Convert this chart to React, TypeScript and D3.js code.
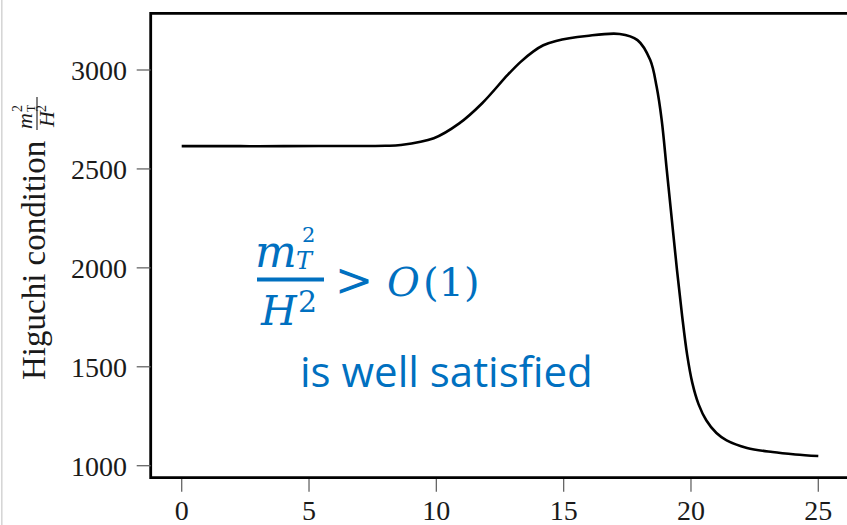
import React from 'react'
import * as d3 from 'd3'

// curve
const tValues = [0, 2, 4, 6, 8, 8.6, 9.9, 10.9, 11.8, 12.8, 13.3, 13.8, 14.2, 14.7, 15.9, 17.2, 17.9, 18.4, 18.65, 18.85, 19.05, 19.25, 19.45, 19.65, 19.85, 20.05, 20.3, 20.6, 21.0, 21.4, 22.2, 23.2, 24.1, 25]
const higuchi = [2615, 2615, 2615, 2616, 2617, 2621, 2655, 2730, 2832, 2975, 3040, 3093, 3125, 3147, 3172, 3182, 3151, 3050, 2916, 2747, 2494, 2241, 1990, 1760, 1560, 1420, 1310, 1230, 1165, 1128, 1090, 1069, 1057, 1049]
const xTicks = [0, 5, 10, 15, 20, 25]
const yTicks = [1000, 1500, 2000, 2500, 3000]

const W = 847
const H = 525

const App = () => {
  const x = d3.scaleLinear().domain([0, 25]).range([181.7, 818.3])
  const y = d3.scaleLinear().domain([1000, 3000]).range([465.7, 70])

  const line = d3.line<number>()
    .x((d, i) => x(tValues[i]))
    .y(d => y(d))
    .curve(d3.curveCatmullRom.alpha(0.5))

  const frameL = 150.7
  const frameT = 13.3
  const frameB = 477.7
  const serif = '"Liberation Serif", "Times New Roman", serif'
  const mathFont = '"DejaVu Serif", serif'
  const blue = '#0070C0'

  return (
    <svg width={W} height={H} style={{ position: 'absolute', left: 0, top: 0, background: 'white' }}>
      {/* slide edge */}
      <line x1={1.8} x2={1.8} y1={0} y2={H} stroke="#d4d4d4" strokeWidth={1.5} />

      {/* frame */}
      <path d={`M${W + 10},${frameT}H${frameL}V${frameB}H${W + 10}`} fill="none" stroke="#000" strokeWidth={2.8} />

      {/* y axis */}
      {yTicks.map(t => (
        <g key={'y' + t}>
          <line x1={136.7} x2={frameL} y1={y(t)} y2={y(t)} stroke="#666" strokeWidth={1.3} />
          <text x={127} y={y(t) + 10} textAnchor="end" fontFamily={serif} fontSize={28} fill="#1a1a1a">{t}</text>
        </g>
      ))}

      {/* x axis */}
      {xTicks.map(t => (
        <g key={'x' + t}>
          <line x1={x(t)} x2={x(t)} y1={frameB + 1.4} y2={491.7} stroke="#666" strokeWidth={1.3} />
          <text x={x(t)} y={519.5} textAnchor="middle" fontFamily={serif} fontSize={28} fill="#1a1a1a">{t}</text>
        </g>
      ))}

      {/* y label */}
      <g transform="translate(45,380) rotate(-90)" fill="#1a1a1a">
        <text x={0} y={0} fontFamily={serif} fontSize={33}>Higuchi condition</text>
        <text x={251} y={-13} fontFamily={serif} fontSize={22} fontStyle="italic">m</text>
        <text x={268} y={-23} fontFamily={serif} fontSize={14}>2</text>
        <text x={268} y={-10} fontFamily={serif} fontSize={12}>T</text>
        <line x1={250} x2={283} y1={-8} y2={-8} stroke="#1a1a1a" strokeWidth={1.1} />
        <text x={253} y={9} fontFamily={serif} fontSize={22} fontStyle="italic">H</text>
        <text x={268} y={1} fontFamily={serif} fontSize={14}>2</text>
      </g>

      {/* data */}
      <path d={line(higuchi) ?? ''} fill="none" stroke="#000" strokeWidth={2.6} strokeLinejoin="round" />

      {/* annotation */}
      <g fill={blue}>
        <text x={255} y={267} fontFamily={mathFont} fontSize={44} fontStyle="italic">m</text>
        <text x={296} y={269} fontFamily={mathFont} fontSize={24} fontStyle="italic">T</text>
        <text x={302} y={242} fontFamily={mathFont} fontSize={21}>2</text>
        <line x1={257} x2={324} y1={279.5} y2={279.5} stroke={blue} strokeWidth={4} />
        <text x={261} y={325} fontFamily={mathFont} fontSize={41} fontStyle="italic">H</text>
        <text x={298} y={312} fontFamily={mathFont} fontSize={30}>2</text>
        <text x={354} y={296} textAnchor="middle" fontFamily={mathFont} fontSize={46}>&gt;</text>
        <text x={387} y={296} fontFamily={mathFont} fontSize={40} fontStyle="italic">O</text>
        <text x={423} y={296} fontFamily={mathFont} fontSize={40}>(1)</text>
        <text x={300} y={387} fontFamily='"Open Sans", sans-serif' fontSize={42}>is well satisfied</text>
      </g>
    </svg>
  )
}

export default App
